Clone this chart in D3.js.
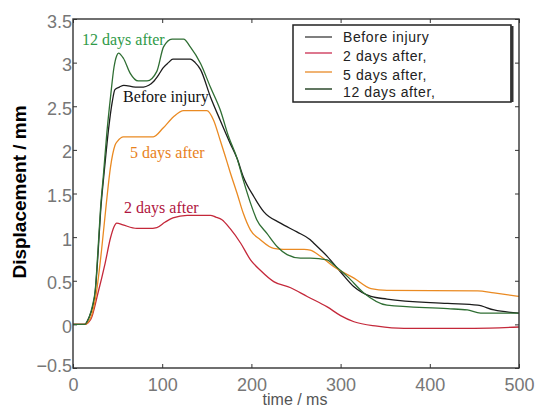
<!DOCTYPE html>
<html>
<head>
<meta charset="utf-8">
<script src="https://cdn.jsdelivr.net/npm/d3@7"></script>
<style>
  body { margin: 0; background: #fff; }
  .tick text { font-family: "Liberation Sans", Arial, sans-serif; }
</style>
</head>
<body>
<div class="chart"></div>
<script>
// displacement traces
var beforeT = [0, 13, 18, 22, 25, 28, 31, 35, 40, 44, 47, 52, 57, 70, 79, 85, 90, 96, 101, 107, 112, 120, 131.5, 137, 143, 154, 165, 176, 184, 191, 203, 214, 232.6, 251, 266, 270, 285, 300, 315, 334, 352, 420, 453.6, 472, 500];
var beforeV = [0, 0, 0.08, 0.2, 0.38, 0.8, 1.3, 1.75, 2.25, 2.55, 2.69, 2.72, 2.74, 2.72, 2.72, 2.74, 2.78, 2.86, 2.94, 3.0, 3.04, 3.04, 3.04, 3.0, 2.92, 2.61, 2.34, 2.08, 1.9, 1.69, 1.46, 1.29, 1.16, 1.06, 0.97, 0.93, 0.78, 0.6, 0.43, 0.32, 0.29, 0.24, 0.22, 0.165, 0.13];

var day2T = [0, 13, 20, 28, 36, 42, 46, 49, 56, 71.5, 85, 94, 103, 112, 128, 154, 160, 167, 176, 188, 199, 210, 225, 244, 262.5, 285, 300, 315, 341, 371, 450, 500];
var day2V = [0, 0, 0.06, 0.36, 0.7, 0.99, 1.12, 1.16, 1.14, 1.1, 1.1, 1.11, 1.17, 1.22, 1.25, 1.25, 1.23, 1.2, 1.1, 0.93, 0.74, 0.62, 0.49, 0.42, 0.32, 0.2, 0.1, 0.03, -0.02, -0.045, -0.045, -0.03];

var day5T = [0, 13, 20, 26, 32, 37, 42, 47, 50, 56.5, 90, 101, 112.7, 124, 150, 157.6, 165, 170, 176, 184, 191, 199, 210, 225, 236, 259, 266, 277.5, 292.5, 315, 334, 352, 453.6, 472, 500];
var day5V = [0, 0, 0.08, 0.35, 0.85, 1.35, 1.8, 2.05, 2.1, 2.15, 2.15, 2.25, 2.38, 2.45, 2.45, 2.34, 2.11, 1.95, 1.75, 1.5, 1.27, 1.08, 0.97, 0.87, 0.86, 0.86, 0.85, 0.78, 0.66, 0.53, 0.41, 0.39, 0.385, 0.36, 0.32];

var day12T = [0, 13, 18, 22, 25, 28, 31, 34, 38, 42, 46, 49, 51, 56.5, 64, 73, 83, 94, 101.5, 111, 124, 131.5, 143, 154, 165, 174.5, 184, 191, 199, 206, 217.6, 229, 240, 255, 266, 285, 292.5, 307.5, 326, 352, 420, 442, 457, 500];
var day12V = [0, 0, 0.08, 0.22, 0.4, 0.85, 1.35, 1.7, 2.2, 2.6, 2.95, 3.08, 3.11, 3.05, 2.88, 2.79, 2.79, 2.9, 3.18, 3.27, 3.27, 3.18, 2.99, 2.72, 2.46, 2.15, 1.9, 1.65, 1.39, 1.2, 1.04, 0.89, 0.8, 0.76, 0.76, 0.74, 0.68, 0.55, 0.36, 0.22, 0.18, 0.165, 0.13, 0.13];

var seriesNames = ["Before injury", "2 days after,", "5 days after,", "12 days after,"];
var xTicks = [0, 100, 200, 300, 400, 500];
var yTicks = [-0.5, 0, 0.5, 1, 1.5, 2, 2.5, 3, 3.5];

var svgWidth = 539;
var svgHeight = 411;

var margin = { top: 19, right: 20, bottom: 43, left: 73 };
var chartWidth = svgWidth - margin.left - margin.right;
var chartHeight = svgHeight - margin.top - margin.bottom;

var svg = d3.select(".chart")
  .append("svg")
  .attr("width", svgWidth)
  .attr("height", svgHeight);

var chartGroup = svg.append("g")
  .attr("transform", `translate(${margin.left}, ${margin.top})`);

var xScale = d3.scaleLinear().domain([0, 500]).range([0, chartWidth]);
var yScale = d3.scaleLinear().domain([-0.5, 3.5]).range([chartHeight, 0]);

// series table built from the arrays
var series = [
  { name: seriesNames[0], t: beforeT, v: beforeV, color: "#1c1c1c", key: "#555" },
  { name: seriesNames[1], t: day2T, v: day2V, color: "#c4283a", key: "#d24a68" },
  { name: seriesNames[2], t: day5T, v: day5V, color: "#ea8a22", key: "#eb9a45" },
  { name: seriesNames[3], t: day12T, v: day12V, color: "#2f6e33", key: "#2c4a2c" }
];

var line = d3.line()
  .x(d => xScale(d[0]))
  .y(d => yScale(d[1]))
  .curve(d3.curveMonotoneX);

// axes (matlab style, ticks inward)
var axisColor = "#333";
var labelColor = "#777";

var bottomAxis = d3.axisBottom(xScale).tickValues(xTicks).tickSize(-4).tickPadding(10).tickFormat(d3.format("d"));
var leftAxis = d3.axisLeft(yScale).tickValues(yTicks).tickSize(-4).tickPadding(1).tickFormat(d => d3.format("")(d));
var topAxis = d3.axisTop(xScale).tickValues(xTicks).tickSize(-4).tickFormat("");
var rightAxis = d3.axisRight(yScale).tickValues(yTicks).tickSize(-4).tickFormat("");

function styleAxis(g) {
  g.select(".domain").remove();
  g.selectAll(".tick line").attr("stroke", axisColor);
  g.selectAll(".tick text").attr("fill", labelColor).attr("font-size", "18px");
}

chartGroup.append("g")
  .attr("transform", `translate(0, ${chartHeight})`)
  .call(bottomAxis)
  .call(styleAxis);

chartGroup.append("g")
  .call(leftAxis)
  .call(styleAxis)
  .selectAll(".tick text")
  .attr("dy", d => d < 0 ? "0.2em" : "0.45em");

chartGroup.append("g").call(topAxis).call(styleAxis);
chartGroup.append("g").attr("transform", `translate(${chartWidth}, 0)`).call(rightAxis).call(styleAxis);

// lines
chartGroup.append("g")
  .selectAll("path")
  .data(series)
  .enter()
  .append("path")
  .attr("d", s => line(s.t.map((t, i) => [t, s.v[i]])))
  .attr("fill", "none")
  .attr("stroke", s => s.color)
  .attr("stroke-width", 1.3);

// frame
chartGroup.append("rect")
  .attr("width", chartWidth)
  .attr("height", chartHeight)
  .attr("fill", "none")
  .attr("stroke", axisColor)
  .attr("stroke-width", 1.4);

// in-plot annotations
var notes = [
  { text: "12 days after", x: 82, y: 45, color: "#2f9a48" },
  { text: "Before injury", x: 123, y: 102, color: "#111" },
  { text: "5 days after", x: 130, y: 158, color: "#e8821c" },
  { text: "2 days after", x: 124, y: 213, color: "#b01540" }
];
svg.append("g")
  .selectAll("text")
  .data(notes)
  .enter()
  .append("text")
  .attr("x", d => d.x)
  .attr("y", d => d.y)
  .attr("fill", d => d.color)
  .attr("font-family", "'Liberation Serif', 'Times New Roman', serif")
  .attr("font-size", "16px")
  .text(d => d.text);

// legend
var legend = svg.append("g");
legend.append("rect")
  .attr("x", 293).attr("y", 25)
  .attr("width", 218).attr("height", 77)
  .attr("fill", "#fff")
  .attr("stroke", "#222")
  .attr("stroke-width", 1.5);
legend.append("line")
  .attr("x1", 512).attr("x2", 512).attr("y1", 26).attr("y2", 102)
  .attr("stroke", "#333").attr("stroke-width", 3);

var keyY = [37, 53, 72, 89];
var textY = [42, 61, 80, 97];
legend.selectAll(".key")
  .data(series)
  .enter()
  .append("line")
  .attr("class", "key")
  .attr("x1", 305).attr("x2", 332)
  .attr("y1", (d, i) => keyY[i]).attr("y2", (d, i) => keyY[i])
  .attr("stroke", d => d.key)
  .attr("stroke-width", 1.5);
legend.selectAll(".ktext")
  .data(series)
  .enter()
  .append("text")
  .attr("class", "ktext")
  .attr("x", 343)
  .attr("y", (d, i) => textY[i])
  .attr("font-family", "'Liberation Sans', Arial, sans-serif")
  .attr("font-size", "14px")
  .attr("letter-spacing", "0.6px")
  .attr("fill", "#222")
  .text(d => d.name);

// axis titles
svg.append("text")
  .attr("transform", `translate(26, 192) rotate(-90)`)
  .attr("text-anchor", "middle")
  .attr("font-family", "'Liberation Sans', Arial, sans-serif")
  .attr("font-weight", "bold")
  .attr("font-size", "19px")
  .attr("fill", "#000")
  .text("Displacement / mm");

svg.append("text")
  .attr("x", 295)
  .attr("y", 405)
  .attr("text-anchor", "middle")
  .attr("font-family", "'Liberation Sans', Arial, sans-serif")
  .attr("font-size", "16px")
  .attr("fill", "#555")
  .text("time / ms");
</script>
</body>
</html>
